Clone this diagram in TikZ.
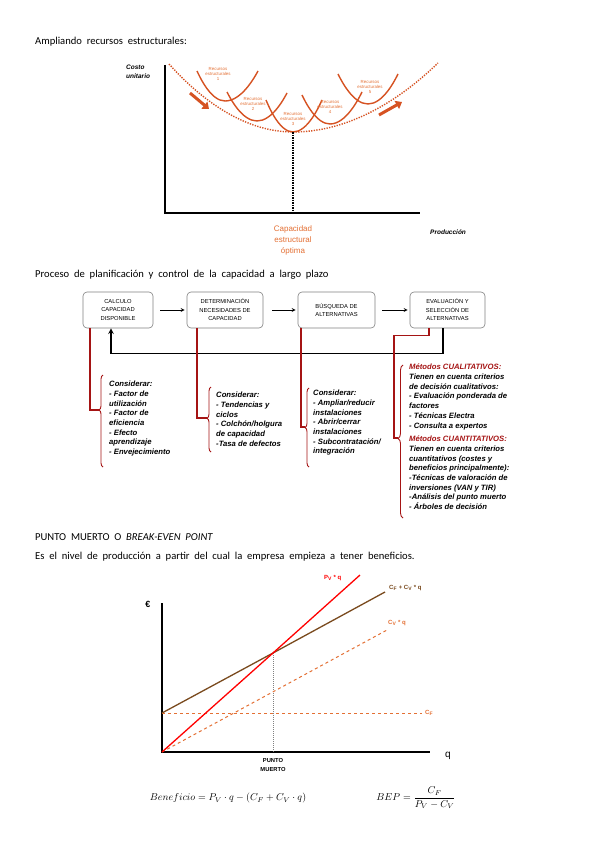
\documentclass[tikz,border=0pt]{standalone}
\usepackage{fontspec}
\setmainfont{Carlito}
\newfontfamily\arialfont{Liberation Sans}
\usepackage{amsmath}
\usepackage{tikz}
\usetikzlibrary{arrows.meta,decorations.pathreplacing,positioning}
\tikzset{>=stealth}
\definecolor{curvaorange}{RGB}{214,82,34}
\definecolor{textorange}{RGB}{228,112,52}
\definecolor{lineared}{RGB}{165,20,20}
\definecolor{costbrown}{RGB}{122,74,30}
\definecolor{boxgray}{RGB}{130,130,130}
\newcommand\espaciado{\spaceskip=4.8pt plus 1pt\relax}
\tikzset{
  proceso/.style={draw=boxgray,line width=0.6pt,rounded corners=4pt,minimum height=36pt,inner sep=1pt,align=center,font=\arialfont\fontsize{5.8}{8.5}\selectfont},
  redline/.style={lineared,line width=1.1pt},
  llave/.style={lineared,line width=0.9pt,decorate},
  nota/.style={anchor=north west,inner sep=0pt,align=left,font=\arialfont\bfseries\itshape\fontsize{7.7}{9.7}\selectfont},
  recurso/.style={curvaorange,line width=1.4pt},
  rotulo/.style={textorange,align=center,inner sep=0pt,font=\arialfont\fontsize{4.4}{5.2}\selectfont},
  eje/.style={line width=2pt},
  titulo/.style={anchor=west,inner sep=0pt,font=\fontsize{10.6}{12}\selectfont,execute at begin node=\espaciado},
  etiqueta/.style={anchor=west,inner sep=0pt,font=\arialfont\bfseries\fontsize{6}{7}\selectfont},
}

\begin{document}
\begin{tikzpicture}[x=1pt,y=-1pt]
\useasboundingbox (0,0) rectangle (599,848);
\fill[white] (0,0) rectangle (599,848);

% ampliando recursos
\node[titulo] (tit1) at (35,42) {Ampliando recursos estructurales:};
\draw[eje] (165,65) -- (165,213) -- (420,213);
\node[anchor=north west,inner sep=0pt,align=left,font=\arialfont\bfseries\itshape\fontsize{6.5}{9}\selectfont] (costo) at (126,65) {Costo\\unitario};
\node[anchor=west,inner sep=0pt,font=\arialfont\bfseries\itshape\fontsize{6.5}{8}\selectfont] (produccion) at (430,232) {Producción};
\draw[curvaorange,line width=1.4pt,dash pattern=on 1.3pt off 1.3pt] (169,64) parabola bend (293,132) (438,63);
\draw[recurso] (197,71) parabola bend (225,101) (258,71);
\draw[recurso] (227,92) parabola bend (257,121) (287,93);
\draw[recurso] (266,100) parabola bend (293,132) (322,100);
\draw[recurso] (302,95) parabola bend (330,124) (362,92);
\draw[recurso] (338,74) parabola bend (368,104) (398,74);
\node[rotulo] (rec1) at (218,74) {Recursos\\estructurales\\1};
\node[rotulo] (rec2) at (253,104) {Recursos\\estructurales\\2};
\node[rotulo] (rec3) at (293,119) {Recursos\\estructurales\\3};
\node[rotulo] (rec4) at (330,107) {Recursos\\estructurales\\4};
\node[rotulo] (rec5) at (370,87) {Recursos\\estructurales\\5};
\draw[curvaorange,line width=3pt,-{Triangle[length=6pt,width=9pt]}] (190,93) -- (209,109);
\draw[curvaorange,line width=3pt,-{Triangle[length=6pt,width=9pt]}] (379,115) -- (402,102);
\draw[line width=1.5pt,dash pattern=on 1.5pt off 1pt] (293,132) -- (293,213);
\node[textorange,anchor=north,align=center,inner sep=0pt,font=\arialfont\fontsize{8}{11}\selectfont] (optima) at (293,226) {Capacidad\\estructural\\óptima};

% proceso de planificacion
\node[titulo] (tit2) at (35,275) {Proceso de planificación y control de la capacidad a largo plazo};
\node[proceso,minimum width=70pt] (calculo) at (118,310) {CALCULO\\CAPACIDAD\\DISPONIBLE};
\node[proceso,minimum width=76pt] (determinacion) at (225,310) {DETERMINACIÓN\\NECESIDADES DE\\CAPACIDAD};
\node[proceso,minimum width=77pt] (busqueda) at (336.5,310) {BÚSQUEDA DE\\ALTERNATIVAS};
\node[proceso,minimum width=75pt] (evaluacion) at (447.5,310) {EVALUACIÓN Y\\SELECCIÓN DE\\ALTERNATIVAS};
\draw[->,thick,shorten <=7pt,shorten >=2pt] (calculo) -- (determinacion);
\draw[->,thick,shorten <=9pt,shorten >=2pt] (determinacion) -- (busqueda);
\draw[->,thick,shorten <=7pt,shorten >=2pt] (busqueda) -- (evaluacion);
\draw[->,line width=1.5pt] ([xshift=-4.5pt]evaluacion.south) -- ++(0,25) -| ([xshift=-7pt]calculo.south);
\draw[line width=2.5pt] ([xshift=-4.5pt]evaluacion.south) -- ++(0,25);

\coordinate (punta1) at (99,410);
\coordinate (punta2) at (207,418);
\coordinate (punta3) at (305,427);
\coordinate (punta4) at (398,438);
\draw[redline] ([xshift=-28pt]calculo.south) |- (punta1);
\draw[redline] ([xshift=-28pt]determinacion.south) |- (punta2);
\draw[redline] ([xshift=-35.5pt]busqueda.south) |- (punta3);
\draw[redline] ([xshift=-18.5pt]evaluacion.south) -- ++(0,7) -| (394,438) -- (punta4);
\draw[llave,decoration={brace,amplitude=4pt,aspect=0.62}] (103,467) -- (103,375);
\draw[llave,decoration={brace,amplitude=4pt,aspect=0.52}] (211,452) -- (211,387);
\draw[llave,decoration={brace,amplitude=4pt,aspect=0.5}] (309,467) -- (309,388);
\draw[llave,decoration={brace,amplitude=5pt,aspect=0.52}] (403,518) -- (403,365);
\node[nota] (nota1) at (109,381) {Considerar:\\- Factor de\\utilización\\- Factor de\\eficiencia\\- Efecto\\aprendizaje\\- Envejecimiento};
\node[nota] (nota2) at (216,392) {Considerar:\\- Tendencias y\\ciclos\\- Colchón/holgura\\de capacidad\\-Tasa de defectos};
\node[nota] (nota3) at (313,390) {Considerar:\\- Ampliar/reducir\\instalaciones\\- Abrir/cerrar\\instalaciones\\- Subcontratación/\\integración};
\node[nota] (nota4) at (409,364) {\textcolor{lineared}{Métodos CUALITATIVOS:}\\Tienen en cuenta criterios\\de decisión cualitativos:\\- Evaluación ponderada de\\factores\\- Técnicas Electra\\- Consulta a expertos\\[4pt]\textcolor{lineared}{Métodos CUANTITATIVOS:}\\Tienen en cuenta criterios\\cuantitativos (costes y\\beneficios principalmente):\\-Técnicas de valoración de\\inversiones (VAN y TIR)\\-Análisis del punto muerto\\- Árboles de decisión};

% punto muerto
\node[titulo] (tit3) at (35,537) {PUNTO MUERTO O \textit{BREAK-EVEN POINT}};
\node[titulo] (tit4) at (35,557) {Es el nivel de producción a partir del cual la empresa empieza a tener beneficios.};
\coordinate (O) at (162,752);
\draw[line width=2.5pt] (162,603) -- (O) -- (430,752);
\node[font=\arialfont\bfseries\fontsize{9}{10}\selectfont] (euro) at (148,604) {€};
\node[font=\arialfont\fontsize{10}{11}\selectfont] (q) at (448,756) {q};
\coordinate (corte) at (273,653);
\draw[gray,line width=1pt,dash pattern=on 1pt off 1pt] (corte) -- (273,752);
\draw[textorange,line width=1pt,dashed] (162,713) -- (422,713);
\draw[textorange,line width=1pt,dashed] (O) -- (387,630);
\draw[costbrown,line width=1.3pt] (162,713) -- (corte) -- (385,592);
\draw[red,line width=1.3pt] (O) -- (corte) -- (360,575);
\node[etiqueta,red] (lpv) at (324,578) {P\textsubscript{V} * q};
\node[etiqueta,costbrown] (lcf) at (389,588) {C\textsubscript{F} + C\textsubscript{V} * q};
\node[etiqueta,textorange] (lcv) at (388,623) {C\textsubscript{V} * q};
\node[etiqueta,textorange] (lcfix) at (425,713) {C\textsubscript{F}};
\node[align=center,inner sep=0pt,font=\arialfont\bfseries\fontsize{5.8}{9.5}\selectfont] (muerto) at (273,765) {PUNTO\\MUERTO};
\node[font=\fontsize{10}{12}\selectfont] (beneficio) at (228,798) {$Beneficio=P_V\cdot q-(C_F+C_V\cdot q)$};
\node[font=\fontsize{10}{12}\selectfont] (bep) at (416,798) {$BEP=\dfrac{C_F}{P_V-C_V}$};
\end{tikzpicture}
\end{document}
